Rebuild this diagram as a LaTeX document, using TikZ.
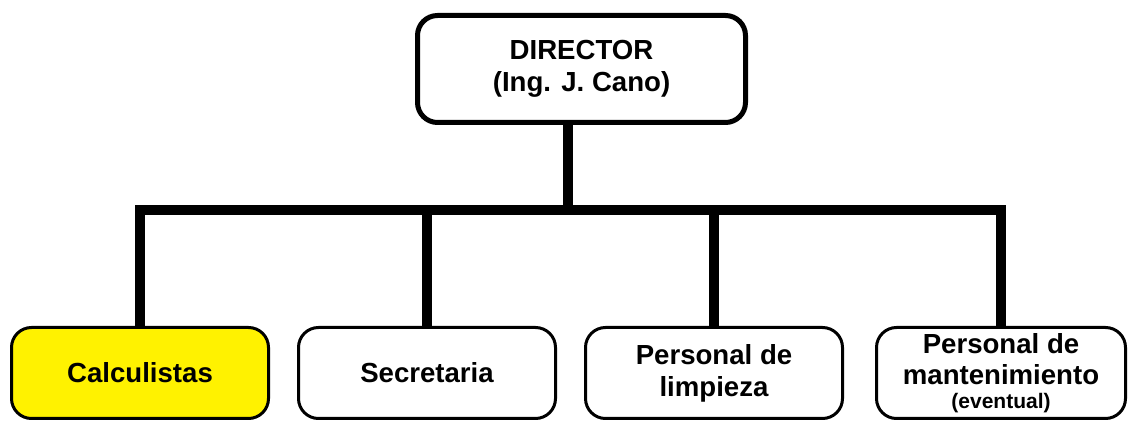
\documentclass[tikz,border=0pt]{standalone}
\usepackage{fontspec}
\setmainfont{Liberation Sans}
\usetikzlibrary{positioning}
\definecolor{calcyellow}{RGB}{255,242,0}

\begin{document}
\begin{tikzpicture}[x=0.5pt,y=-0.5pt,on grid,node distance=143.5pt,
    box/.style={draw,line width=2.5pt,rounded corners=10pt,align=center,inner sep=0pt,
        minimum width=164pt,minimum height=53.5pt,font=\bfseries\fontsize{13.8}{16}\selectfont},
    unit/.style={draw,line width=1.5pt,rounded corners=10pt,align=center,inner sep=0pt,
        minimum width=128.5pt,minimum height=45.5pt,font=\bfseries\fontsize{13.8}{16}\selectfont},
    link/.style={line width=5pt,line join=miter}]
    \useasboundingbox (0,0) rectangle (1129,421);

    \node[box] (dir) at (581.5,69) {DIRECTOR\\(Ing. J. Cano)};
    \node[unit,fill=calcyellow] (calc) at (140,373) {Calculistas};
    \node[unit] (sec) [right=of calc] {Secretaria};
    \node[unit] (limp) [right=of sec] {Personal de\\limpieza};
    \node[unit,minimum width=124.5pt] (mant) [right=of limp]
        {Personal de\\[-0.5pt]mantenimiento\\[-4pt]{\fontsize{10.5}{12}\selectfont(eventual)}};

    \coordinate (hub) at (568,210);
    \draw[link] (dir.south -| hub) -- (hub);
    \draw[link] (calc.north) |- (hub) -| (mant.north);
    \draw[link] (sec.north) -- (sec.north |- hub);
    \draw[link] (limp.north) -- (limp.north |- hub);
\end{tikzpicture}
\end{document}
